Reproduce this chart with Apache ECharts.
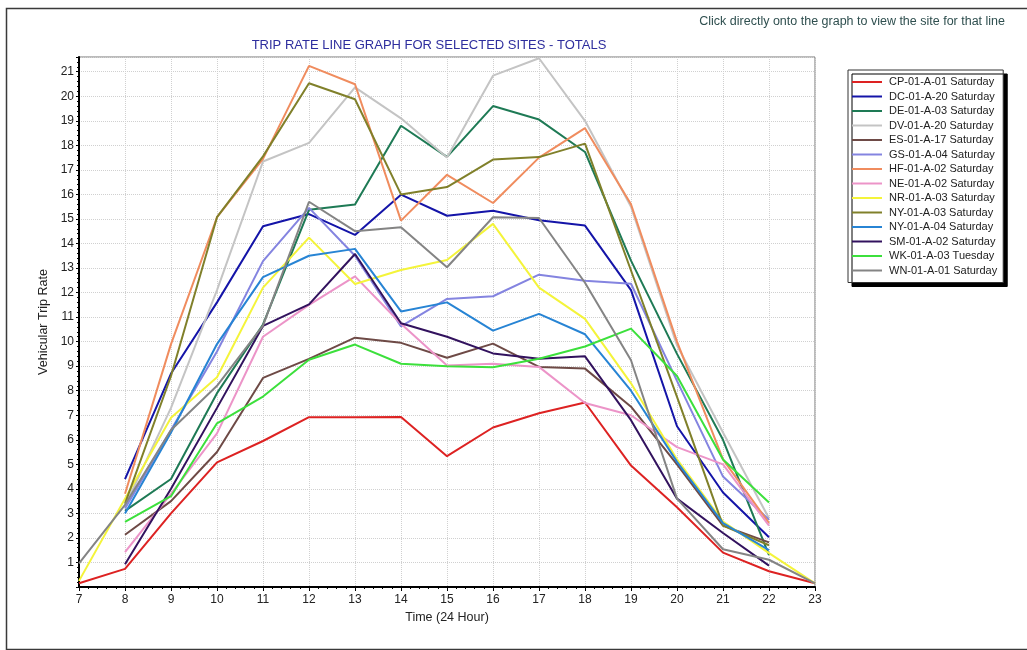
<!DOCTYPE html>
<html>
<head>
<meta charset="utf-8">
<script src="https://cdn.jsdelivr.net/npm/echarts@6/dist/echarts.min.js"></script>
<style>
html,body{margin:0;padding:0;background:#fff;}
#chart{width:1027px;height:650px;}
</style>
</head>
<body>
<div id="chart"></div>
<script>
var hours = [7,8,9,10,11,12,13,14,15,16,17,18,19,20,21,22,23];
var yTicks = [1,2,3,4,5,6,7,8,9,10,11,12,13,14,15,16,17,18,19,20,21];
var seriesNames = [
  'CP-01-A-01 Saturday','DC-01-A-20 Saturday','DE-01-A-03 Saturday','DV-01-A-20 Saturday',
  'ES-01-A-17 Saturday','GS-01-A-04 Saturday','HF-01-A-02 Saturday','NE-01-A-02 Saturday',
  'NR-01-A-03 Saturday','NY-01-A-03 Saturday','NY-01-A-04 Saturday','SM-01-A-02 Saturday',
  'WK-01-A-03 Tuesday','WN-01-A-01 Saturday'
];
var CP   = [0.15,0.74,3.0,5.08,5.95,6.92,6.92,6.93,5.33,6.5,7.08,7.52,4.95,3.25,1.4,0.64,0.15];
var DC   = [null,4.4,8.7,11.6,14.7,15.2,14.35,15.99,15.13,15.33,14.95,14.73,12.1,6.55,3.85,2.03,null];
var DE   = [null,3.1,4.4,7.9,10.7,15.37,15.59,18.8,17.53,19.6,19.05,17.73,13.3,9.5,6.0,1.3,null];
var DV   = [null,3.3,7.3,12.1,17.34,18.1,20.36,19.1,17.5,20.84,21.55,19.0,15.5,9.85,6.3,2.8,null];
var ES   = [null,2.13,3.5,5.5,8.52,9.3,10.16,9.95,9.34,9.92,8.97,8.9,7.35,5.0,2.5,1.82,null];
var GS   = [null,3.2,6.4,9.6,13.28,15.45,13.5,10.62,11.74,11.85,12.73,12.48,12.36,8.4,4.5,2.74,null];
var HF   = [null,3.8,9.9,15.07,17.45,21.24,20.49,14.93,16.8,15.65,17.5,18.7,15.6,10.0,5.2,2.6,null];
var NE   = [null,1.42,3.8,6.26,10.2,11.5,12.66,10.73,9.03,9.1,8.97,7.5,7.0,5.7,5.0,2.5,null];
var NR   = [0.25,3.6,6.9,8.55,12.2,14.24,12.35,12.92,13.33,14.8,12.2,10.93,8.3,5.2,2.67,1.38,0.15];
var NY03 = [null,3.4,8.6,15.07,17.55,20.53,19.88,16.0,16.3,17.42,17.52,18.07,12.9,7.75,2.5,1.7,null];
var NY04 = [null,3.0,6.3,9.9,12.63,13.5,13.78,11.23,11.6,10.45,11.13,10.3,8.0,5.1,2.6,1.5,null];
var SM   = [null,0.93,4.0,7.3,10.64,11.52,13.57,10.75,10.2,9.52,9.3,9.4,6.8,3.6,2.2,0.87,null];
var WK   = [null,2.65,3.7,6.67,7.76,9.26,9.88,9.1,9.0,8.96,9.3,9.8,10.53,8.6,5.2,3.44,null];
var WN   = [0.96,3.35,6.4,8.2,10.65,15.7,14.5,14.66,13.03,15.07,15.04,12.4,9.24,3.6,1.54,1.11,0.15];

var seriesValues = [CP,DC,DE,DV,ES,GS,HF,NE,NR,NY03,NY04,SM,WK,WN];
var seriesColors = ['#dd2222','#1414a8','#1e7a55','#c4c4c4','#6e4a46','#8484e0','#f08c5e','#ec94c8',
                    '#f4f43a','#80802a','#2784d4','#32125e','#3ce03c','#848484'];

var chart = echarts.init(document.getElementById('chart'), null, {renderer:'canvas'});

var series = seriesValues.map(function(vals, k){
  var data = [];
  hours.forEach(function(h, i){ if (vals[i] !== null) data.push([h, vals[i]]); });
  return {
    name: seriesNames[k],
    type: 'line',
    data: data,
    showSymbol: false,
    symbol: 'none',
    lineStyle: {width: 2, color: seriesColors[k]},
    itemStyle: {color: seriesColors[k]},
    animation: false
  };
});

var option = {
  backgroundColor: '#ffffff',
  animation: false,
  title: [{
    text: 'TRIP RATE LINE GRAPH FOR SELECTED SITES - TOTALS',
    left: 424, top: 34, textAlign: 'center',
    textStyle: {fontFamily: 'Liberation Sans', fontSize: 13, fontWeight: 'normal', color: '#2e2e9e'}
  },{
    text: 'Click directly onto the graph to view the site for that line',
    right: 17, top: 10,
    textStyle: {fontFamily: 'Liberation Sans', fontSize: 12.5, fontWeight: 'normal', color: '#2f4f4f'}
  }],
  legend: {
    orient: 'vertical',
    left: 848, top: 70,
    data: seriesNames,
    icon: 'rect',
    itemWidth: 30, itemHeight: 2,
    itemGap: 0.5,
    padding: [5, 6, 5, 4],
    backgroundColor: '#ffffff',
    borderColor: '#333',
    borderWidth: 1,
    shadowColor: '#000',
    shadowOffsetX: 4, shadowOffsetY: 4, shadowBlur: 0,
    textStyle: {fontFamily: 'Liberation Sans', fontSize: 11, color: '#222', lineHeight: 14, padding: [0,0,0,2]}
  },
  grid: {left: 79, right: 212, top: 57, bottom: 63, show: true, borderColor: '#777', borderWidth: 1, backgroundColor: '#fff'},
  xAxis: {
    type: 'value', min: 7, max: 23, interval: 1,
    name: 'Time (24 Hour)', nameLocation: 'middle', nameGap: 18,
    nameTextStyle: {fontFamily: 'Liberation Sans', fontSize: 12.5, color: '#222'},
    axisLine: {show: true, lineStyle: {color: '#000', width: 2}},
    axisTick: {show: true, length: 4, lineStyle: {color: '#000'}},
    minorTick: {show: true, splitNumber: 5, length: 2, lineStyle: {color: '#000'}},
    axisLabel: {fontFamily: 'Liberation Sans', fontSize: 12, color: '#222', margin: 7},
    splitLine: {show: true, lineStyle: {color: '#d0d0d0', type: 'dotted', width: 1}}
  },
  yAxis: {
    type: 'value', min: 0, max: 21.6, interval: 1,
    name: 'Vehicular Trip Rate', nameLocation: 'middle', nameGap: 19,
    nameTextStyle: {fontFamily: 'Liberation Sans', fontSize: 12.5, color: '#222'},
    axisLine: {show: true, lineStyle: {color: '#000', width: 2}},
    axisTick: {show: true, length: 3, lineStyle: {color: '#000'}},
    minorTick: {show: true, splitNumber: 5, length: 2, lineStyle: {color: '#000'}},
    axisLabel: {
      fontFamily: 'Liberation Sans', fontSize: 12, color: '#222', margin: 5,
      formatter: function(v){ return yTicks.indexOf(v) >= 0 ? String(v) : ''; }
    },
    splitLine: {show: true, lineStyle: {color: '#d0d0d0', type: 'dotted', width: 1}}
  },
  graphic: [{
    type: 'rect', left: 4, top: 6, silent: true, z: -10,
    shape: {width: 1022, height: 641},
    style: {fill: 'none', stroke: '#3a3a3a', lineWidth: 1.5}
  }],
  series: series
};
chart.setOption(option);
</script>
</body>
</html>
